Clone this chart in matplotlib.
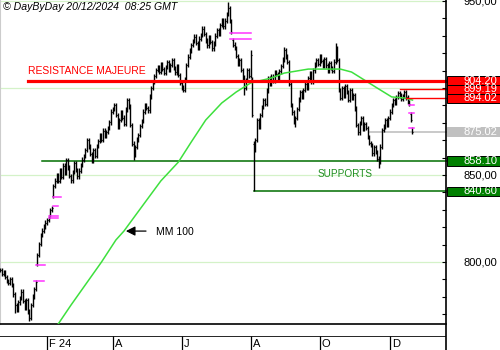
import numpy as np
import pandas as pd
import matplotlib
matplotlib.use("Agg")
import matplotlib.pyplot as plt
from matplotlib.patches import Rectangle
from matplotlib.lines import Line2D

plt.rcParams['font.family'] = ['Liberation Sans', 'DejaVu Sans']

# trading days (Euronext calendar)
holidays = ["2023-12-25", "2023-12-26", "2024-01-01", "2024-03-29", "2024-04-01", "2024-05-01"]
dates = pd.bdate_range("2023-12-19", "2024-12-20")
dates = dates[~dates.isin(pd.to_datetime(holidays))]

closes = [
    795.4, 793.0, 794.3, 791.5, 789.0, 788.0, 790.2, 786.8, 781.5, 775.3,
    772.5, 776.8, 779.3, 783.0, 777.5, 774.0, 778.2, 771.5, 767.8, 775.3,
    780.2, 784.5, 788.5, 804.0, 810.5, 815.5, 818.0, 820.4, 822.6, 824.2,
    825.3, 829.9, 831.0, 843.7, 846.8, 850.0, 846.5, 852.9, 849.0, 855.4,
    851.2, 858.6, 854.3, 849.5, 847.0, 851.7, 856.9, 853.0, 849.2, 852.5,
    855.8, 858.9, 861.0, 864.5, 870.1, 866.3, 862.0, 858.4, 864.4, 861.2,
    866.8, 869.5, 873.0, 870.2, 875.5, 872.4, 874.8, 877.0, 880.3, 886.5,
    888.0, 890.3, 884.5, 878.0, 881.6, 886.2, 883.0, 879.5, 887.8, 893.1,
    889.4, 878.8, 868.0, 861.5, 866.0, 870.5, 873.0, 878.2, 881.0, 886.4,
    890.1, 888.5, 887.2, 895.0, 900.0, 903.5, 906.8, 910.4, 912.0, 909.5,
    913.8, 911.0, 908.6, 912.2, 915.0, 910.8, 913.2, 916.0, 911.5, 909.0,
    912.4, 907.5, 903.0, 900.4, 898.9, 905.2, 913.2, 918.0, 921.5, 924.7,
    927.0, 929.5, 926.0, 923.3, 928.4, 930.5, 934.2, 931.0, 927.2, 924.5,
    929.3, 926.5, 922.8, 925.7, 930.1, 933.4, 931.0, 936.2, 939.0, 935.5,
    938.8, 942.5, 946.0, 938.5, 932.2, 925.0, 923.0, 918.5, 914.0, 916.2,
    910.4, 906.0, 900.0, 904.5, 910.4, 906.8, 919.0, 884.5, 864.4, 870.2,
    881.6, 878.0, 884.5, 889.0, 893.1, 891.0, 898.5, 905.8, 902.4, 906.5,
    904.0, 908.8, 908.1, 905.5, 909.6, 912.8, 916.5, 921.9, 918.0, 915.0,
    902.5, 890.3, 886.0, 880.4, 882.8, 888.0, 893.5, 897.7, 895.2, 899.0,
    902.6, 900.1, 905.8, 908.5, 903.8, 910.2, 913.5, 916.1, 914.0, 918.2,
    915.5, 912.7, 916.8, 913.0, 909.8, 914.5, 911.5, 910.0, 915.2, 923.0,
    916.0, 898.9, 894.5, 899.8, 895.5, 901.2, 897.7, 893.0, 898.6, 894.2,
    896.0, 888.2, 878.8, 874.5, 880.0, 882.8, 876.5, 879.2, 877.0, 871.8,
    868.5, 867.3, 862.5, 866.0, 863.2, 859.5, 857.5, 866.4, 875.9, 878.0,
    881.5, 879.0, 882.8, 886.5, 890.3, 893.0, 891.5, 894.9, 897.2, 895.6,
    893.8, 895.4, 897.5, 894.6, 892.0, 890.8, 881.6, 875.02,
]
gap_opens = {23: 799.0, 31: 827.0, 33: 838.0, 145: 927.5, 157: 905.0,
             158: 868.0, 256: 885.0, 257: 876.5}
low_marks = {9: 771.0, 18: 766.0, 83: 858.6, 114: 897.7, 152: 896.0,
             158: 840.6, 184: 877.6, 236: 854.0}
high_marks = {142: 949.5, 156: 921.9, 177: 923.6, 209: 925.9}

# gaps : (first day, last day, level)
gaps = [(21, 27, 788.9), (22, 28, 798.4), (30, 36, 825.3), (30, 36, 826.5),
        (33, 36, 832.2), (33, 38, 837.4), (143, 156, 931.6), (143, 156, 928.2),
        (255, 258, 890.3), (255, 258, 885.7), (255, 258, 877.0)]

mm100_days = [36, 44, 52, 63, 72, 77, 88, 100, 111, 119, 128, 138, 147, 156,
              169, 177, 192, 212, 219, 227, 235, 244, 252, 257]
mm100_vals = [764.4, 775.3, 785.7, 800.0, 812.7, 817.8, 831.6, 846.6, 857.5,
              869.0, 881.6, 891.4, 897.7, 902.9, 905.8, 908.6, 910.9, 910.9,
              909.2, 904.6, 900.0, 894.9, 894.3, 893.1]

resistance = 904.20
red_levels = [899.19, 894.02]
pivot = 875.02
supports = [858.10, 840.60]
grid_levels = [950, 900, 850, 800]
axis_labels = [950, 850, 800]
month_starts = ["2024-02-01", "2024-04-01", "2024-06-01", "2024-08-01", "2024-10-01", "2024-12-01"]
month_labels = ["F 24", "A", "J", "A", "O", "D"]

W, H = 500, 350
fig = plt.figure(figsize=(5, 3.5), dpi=100)
ax = fig.add_axes([0, 26 / H, 446 / W, 324 / H])
ax.set_xlim(-0.3, 277.9)
ax.set_ylim(764.4, 950.6)

days = np.arange(len(closes))
c = np.array(closes)
o = np.r_[c[0], c[:-1]]
for d, v in gap_opens.items():
    o[d] = v
lo = np.minimum(o, c) - 1.3
hi = np.maximum(o, c) + 1.3
for d, v in low_marks.items():
    lo[d] = v
for d, v in high_marks.items():
    hi[d] = v

for g in grid_levels:
    ax.axhline(g, color='#d4f2c8', lw=0.9, zorder=1)

ax.vlines(days, lo, hi, color='black', lw=1.0, zorder=3)
ax.hlines(o, days - 0.6, days, color='black', lw=0.8, zorder=3)
ax.hlines(c, days, days + 0.6, color='black', lw=0.8, zorder=3)

for d0, d1, lv in gaps:
    ax.plot([d0, d1], [lv, lv], color='#ff33ff', lw=1.1, zorder=4)

ax.plot(mm100_days, mm100_vals, color='#3ee03e', lw=1.1, zorder=4)

ax.plot([17.2, 280], [resistance] * 2, color='#ff0000', lw=2.3, zorder=5, clip_on=False)
ax.plot([249.2, 280], [red_levels[0]] * 2, color='#ff0000', lw=1.0, zorder=5, clip_on=False)
ax.plot([253.0, 280], [red_levels[1]] * 2, color='#ff0000', lw=1.0, zorder=5, clip_on=False)
ax.plot([230.5, 280], [pivot] * 2, color='#bbbbbb', lw=1.1, zorder=2, clip_on=False)
ax.plot([25.7, 280], [supports[0]] * 2, color='#006e00', lw=1.1, zorder=2, clip_on=False)
ax.plot([158.1, 280], [supports[1]] * 2, color='#006e00', lw=1.1, zorder=2, clip_on=False)

ax.text(17.0, 906.7, "RESISTANCE MAJEURE", color='#ff0000', fontsize=7.5,
        ha='left', va='bottom')
ax.text(198.0, 850.5, "SUPPORTS", color='#1f8f1f', fontsize=7.2,
        ha='left', va='center')
ax.annotate("", xy=(76.5, 817.8), xytext=(92.5, 817.8),
            arrowprops=dict(arrowstyle='-|>,head_length=0.55,head_width=0.28',
                            color='black', lw=0.9))
ax.text(97.0, 817.3, "MM 100", fontsize=7.5, ha='left', va='center')

for s in ['top', 'right']:
    ax.spines[s].set_visible(False)
ax.spines['left'].set_color('#cccccc')
ax.spines['bottom'].set_linewidth(1.2)
ax.set_xticks([])
ax.yaxis.tick_right()
ax.set_yticks(np.arange(770, 951, 10))
ax.tick_params(axis='y', direction='in', length=3, width=0.8, labelright=False)

# right label strip
axr = fig.add_axes([446 / W, 26 / H, 54 / W, 324 / H])
axr.set_xlim(0, 1)
axr.set_ylim(764.4, 950.6)
axr.axis('off')
for v in axis_labels:
    axr.text(0.945, v, f"{v:.2f}".replace('.', ','), fontsize=8, ha='right',
             va='center', clip_on=False)
boxes = [(resistance, '#ff0000'), (red_levels[0], '#ff0000'), (red_levels[1], '#ff0000'),
         (pivot, '#c0c0c0'), (supports[0], '#008000'), (supports[1], '#008000')]
for v, col in boxes:
    ec = 'black' if col != '#c0c0c0' else '#c0c0c0'
    axr.add_patch(Rectangle((0.02, v - 2.75), 0.98, 5.5, facecolor=col,
                            edgecolor=ec, lw=0.7, clip_on=False))
    axr.text(0.945, v, f"{v:.2f}", color='white', fontsize=8, ha='right',
             va='center', clip_on=False)

# month strip
axb = fig.add_axes([0, 0, 446 / W, 14.3 / H])
axb.set_xlim(ax.get_xlim())
axb.set_ylim(0, 1)
axb.axis('off')
axb.axhline(1, color='black', lw=1.2)
for m, lab in zip(month_starts, month_labels):
    d = int(np.argmax(dates >= pd.Timestamp(m)))
    axb.vlines(d, 0, 1, color='black', lw=0.9)
    axb.text(d + 1.2, 0.18, lab, fontsize=8, ha='left', va='baseline')

fig.add_artist(Line2D([446 / W, 446 / W], [0, 1], color='black', lw=1.2,
                      transform=fig.transFigure))
fig.text(3 / W, 1 - 2 / H, "\u00a9 DayByDay 20/12/2024  08:25 GMT",
         style='italic', fontsize=7.6, va='top', ha='left')

fig.savefig("out.png", dpi=100)
